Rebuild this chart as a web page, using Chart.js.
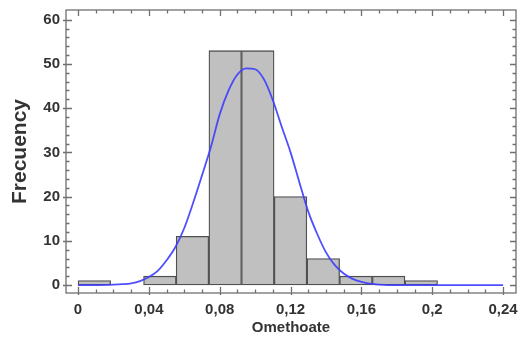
<!DOCTYPE html>
<html>
<head>
<meta charset="utf-8">
<script src="https://cdn.jsdelivr.net/npm/chart.js@4"></script>
<style>
  html, body { margin: 0; padding: 0; background: #fff; }
  #wrap { width: 523px; height: 340px; }
</style>
</head>
<body>
<div id="wrap"><canvas id="hist"></canvas></div>
<script>
// histogram bins (centres) and counts
const binCenters = [0.0092, 0.0277, 0.0462, 0.0646, 0.0831, 0.1015, 0.12, 0.1385, 0.1569, 0.1754, 0.1938, 0.2123, 0.2308];
const binCounts = [1, null, 2, 11, 53, 53, 20, 6, 2, 2, 1, null, null];

// fitted density curve, scaled to counts
const curveX = [0, 0.01, 0.02, 0.025, 0.03, 0.035, 0.04, 0.045, 0.05, 0.055, 0.06, 0.065, 0.07, 0.075, 0.08, 0.085, 0.09, 0.095, 0.1, 0.105, 0.11, 0.115, 0.12, 0.125, 0.13, 0.135, 0.14, 0.145, 0.15, 0.155, 0.16, 0.165, 0.17, 0.175, 0.2, 0.24];
const curveY = [0, 0, 0.1, 0.2, 0.4, 0.9, 1.8, 3.2, 5.6, 8.6, 12.9, 18.6, 24.8, 31.2, 38.6, 44.0, 47.6, 49.0, 48.8, 46.5, 41.8, 35.8, 30.0, 23.2, 16.6, 11.6, 7.4, 4.5, 2.6, 1.4, 0.7, 0.3, 0.1, 0, 0, 0];

const xTicks = [0, 0.04, 0.08, 0.12, 0.16, 0.2, 0.24];
const xTickLabels = ['0', '0,04', '0,08', '0,12', '0,16', '0,2', '0,24'];
const yTicks = [0, 10, 20, 30, 40, 50, 60];

const FONT = "'Liberation Sans', Arial, sans-serif";
const TEXT = '#333333';

// frame with inward tick marks on all four sides
const framePlugin = {
  id: 'frame',
  afterDraw(chart) {
    const {ctx, chartArea: a, scales} = chart;
    const xs = scales.x, ys = scales.y;
    ctx.save();
    ctx.strokeStyle = '#707070';
    ctx.lineWidth = 1.3;
    ctx.strokeRect(a.left, a.top, a.right - a.left, a.bottom - a.top);

    ctx.beginPath();
    for (let v = 0; v <= 0.2401; v += 0.01) {
      const px = Math.round(xs.getPixelForValue(v)) + 0.5;
      const major = xTicks.some(t => Math.abs(t - v) < 1e-6);
      const len = major ? 6 : 3.5;
      ctx.moveTo(px, a.bottom + (major ? 2 : 0));
      ctx.lineTo(px, a.bottom - len);
      ctx.moveTo(px, a.top);
      ctx.lineTo(px, a.top + len);
    }
    for (let v = 0; v <= 60; v += 2) {
      const py = Math.round(ys.getPixelForValue(v)) + 0.5;
      const major = v % 10 === 0;
      const len = major ? 6 : 3.5;
      ctx.moveTo(a.left - (major ? 3 : 0), py);
      ctx.lineTo(a.left + len, py);
      ctx.moveTo(a.right, py);
      ctx.lineTo(a.right - len, py);
    }
    ctx.stroke();
    ctx.restore();
  }
};

const ctx = document.getElementById('hist');
new Chart(ctx, {
  data: {
    datasets: [
      {
        type: 'line',
        data: curveX.map((x, i) => ({x: x, y: curveY[i]})),
        borderColor: 'rgba(60, 60, 255, 0.9)',
        borderWidth: 1.8,
        pointRadius: 0,
        cubicInterpolationMode: 'monotone',
        fill: false,
        order: 0,
      },
      {
        type: 'bar',
        data: binCenters.map((x, i) => ({x: x, y: binCounts[i]})),
        backgroundColor: '#c0c0c0',
        borderColor: '#505050',
        borderWidth: 1.3,
        borderSkipped: false,
        barPercentage: 1,
        categoryPercentage: 1,
        order: 1,
      },
    ],
  },
  options: {
    responsive: true,
    maintainAspectRatio: false,
    animation: false,
    layout: {padding: {top: 10, right: 7, left: 0, bottom: 0}},
    plugins: {legend: {display: false}, tooltip: {enabled: false}},
    scales: {
      x: {
        type: 'linear',
        offset: false,
        min: -0.0068,
        max: 0.2473,
        grid: {display: false, drawTicks: false},
        border: {display: false},
        afterBuildTicks: s => { s.ticks = xTicks.map(v => ({value: v})); },
        afterFit: s => { s.height = 47; s.paddingLeft = 0; s.paddingRight = 0; },
        ticks: {
          padding: 8,
          color: TEXT,
          font: {family: FONT, size: 15, weight: 'bold'},
          maxRotation: 0,
          callback: (v, i) => xTickLabels[i],
        },
        title: {
          display: true,
          text: 'Omethoate',
          color: TEXT,
          font: {family: FONT, size: 15, weight: 'bold'},
          padding: {top: 0, bottom: 3},
        },
      },
      y: {
        min: -1.8,
        max: 62.2,
        grid: {display: false, drawTicks: false},
        border: {display: false},
        afterBuildTicks: s => { s.ticks = yTicks.map(v => ({value: v})); },
        afterFit: s => { s.width = 66; s.paddingTop = 0; s.paddingBottom = 0; },
        ticks: {
          padding: 6,
          color: TEXT,
          font: {family: FONT, size: 15, weight: 'bold'},
        },
        title: {
          display: true,
          text: 'Frecuency',
          color: TEXT,
          font: {family: FONT, size: 21, weight: 'bold'},
          padding: {top: 8, bottom: 0},
        },
      },
    },
  },
  plugins: [framePlugin],
});
</script>
</body>
</html>
